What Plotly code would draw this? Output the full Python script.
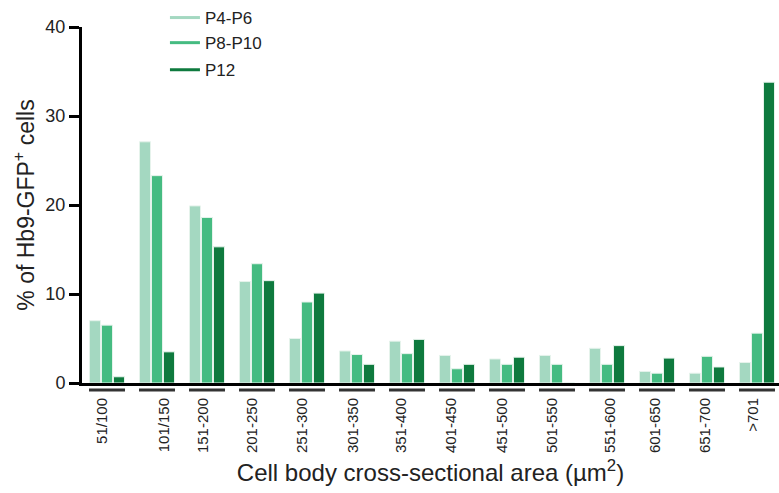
import numpy as np
import plotly.graph_objects as go

categories = ["51/100", "101/150", "151-200", "201-250", "251-300", "301-350", "351-400",
              "401-450", "451-500", "501-550", "551-600", "601-650", "651-700", ">701"]
p4_p6 = [7.0, 27.1, 19.9, 11.4, 5.0, 3.6, 4.7, 3.1, 2.7, 3.1, 3.9, 1.3, 1.1, 2.3]
p8_p10 = [6.5, 23.3, 18.6, 13.4, 9.1, 3.2, 3.3, 1.6, 2.1, 2.1, 2.1, 1.1, 3.0, 5.6]
p12 = [0.7, 3.5, 15.3, 11.5, 10.1, 2.1, 4.9, 2.1, 2.9, 0.0, 4.2, 2.8, 1.8, 33.8]
series_names = ["P4-P6", "P8-P10", "P12"]
y_ticks = [0, 10, 20, 30, 40]

colors = ["#a4d8c1", "#45bb81", "#0e7a3e"]
FONT = "Liberation Sans, Arial, sans-serif"
TXT = "#222222"

xpos = np.arange(len(categories))
label_shift = [-0.1, 0.14, -0.08, -0.1, -0.1, -0.08, -0.12, -0.12, -0.1, -0.1, 0.06, -0.04, -0.04, -0.08]

fig = go.Figure()
for name, vals, col in zip(series_names, [p4_p6, p8_p10, p12], colors):
    fig.add_trace(go.Bar(x=xpos, y=vals, name=name,
                         marker=dict(color=col, line=dict(color="#e6f3ec", width=1)),
                         showlegend=False))

# legend entries drawn as short lines
groups = ["a", "a", "b"]
for name, col, g in zip(series_names, colors, groups):
    fig.add_trace(go.Scatter(x=[None], y=[None], mode="lines", name=name, legendgroup=g,
                             line=dict(color=col, width=3)))

# group underlines
for i in xpos:
    fig.add_shape(type="line", xref="x", yref="paper", x0=i - 0.36, x1=i + 0.36,
                  y0=-0.0196, y1=-0.0196, line=dict(color="#333333", width=3))

fig.update_layout(
    width=779, height=493,
    margin=dict(l=82, r=0, t=16, b=110),
    paper_bgcolor="white", plot_bgcolor="white",
    barmode="group", bargap=0.28, bargroupgap=0.08,
    font=dict(family=FONT, color=TXT),
    legend=dict(x=0.119, y=1.076, xanchor="left", yanchor="top", traceorder="grouped",
                tracegroupgap=2, font=dict(size=17, color=TXT), bgcolor="rgba(0,0,0,0)",
                itemwidth=30),
)
fig.update_xaxes(
    range=[-0.5, 13.44], showgrid=False, zeroline=False, automargin=False,
    showline=True, linecolor="black", linewidth=3,
    ticks="", tickvals=[p + s for p, s in zip(xpos, label_shift)], ticktext=categories,
    tickangle=-90, tickfont=dict(size=15, color=TXT), ticklabelstandoff=6,
    title=dict(text="Cell body cross-sectional area (µm<sup>2</sup>)", font=dict(size=24, color=TXT), standoff=13),
)
fig.update_yaxes(
    range=[0, 40], tickvals=y_ticks, showgrid=False, zeroline=False, automargin=False,
    showline=True, linecolor="black", linewidth=3,
    ticks="outside", ticklen=10, tickwidth=3, tickcolor="black",
    tickfont=dict(size=18, color=TXT),
    title=dict(text="% of Hb9-GFP<sup>+</sup> cells", font=dict(size=23, color=TXT), standoff=5),
)

fig.write_html("out.html", config={"displayModeBar": False},
               post_script="document.body.style.margin='0';document.body.style.overflow='hidden';")
